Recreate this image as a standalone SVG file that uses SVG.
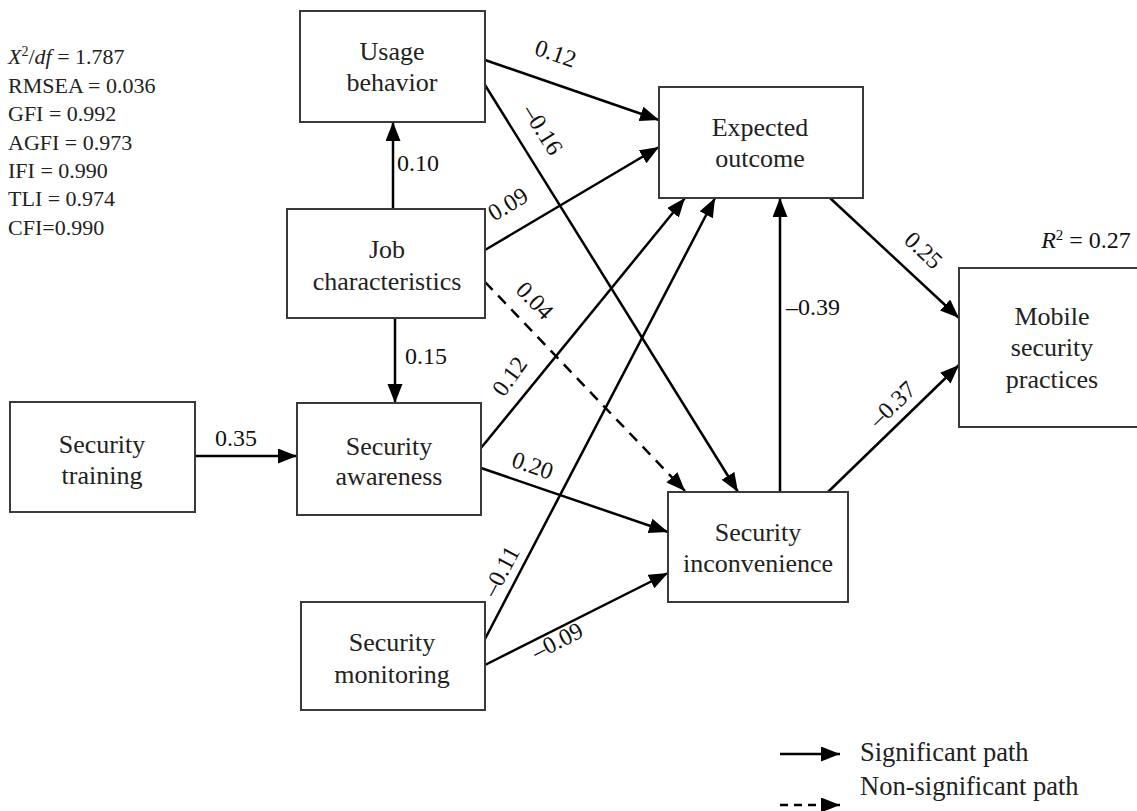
<svg xmlns="http://www.w3.org/2000/svg" width="1137" height="811" viewBox="0 0 1137 811">
<style>
.box{fill:#fff;stroke:#3a3a3a;stroke-width:2}
.nt{font-family:"Liberation Serif",serif;font-size:26px;fill:#222;text-anchor:middle}
.lb{font-family:"Liberation Serif",serif;font-size:24px;fill:#111;text-anchor:middle}
.st{font-family:"Liberation Serif",serif;font-size:22px;fill:#222}
.lg{font-family:"Liberation Serif",serif;font-size:26.5px;fill:#222}
.ln{stroke:#000;stroke-width:2.5;fill:none;marker-end:url(#ah)}
.dash{stroke-dasharray:11,8}
</style>
<defs>
<marker id="ah" markerUnits="userSpaceOnUse" markerWidth="20" markerHeight="16" refX="19" refY="7.5" orient="auto">
<path d="M0,0 L19,7.5 L0,15 z" fill="#000"/>
</marker>
</defs>
<rect width="1137" height="811" fill="#fff"/>

<g id="connectors">
<line class="ln" x1="393" y1="209" x2="393" y2="122"/>
<line class="ln" x1="395" y1="318" x2="395" y2="403"/>
<line class="ln" x1="195" y1="456" x2="297" y2="456"/>
<line class="ln" x1="485" y1="60" x2="659" y2="120"/>
<line class="ln" x1="485" y1="85" x2="738" y2="492"/>
<line class="ln" x1="485" y1="250" x2="659" y2="147"/>
<line class="ln dash" x1="485" y1="282" x2="685" y2="491"/>
<line class="ln" x1="481" y1="448" x2="685" y2="198"/>
<line class="ln" x1="485" y1="639" x2="715" y2="198"/>
<line class="ln" x1="481" y1="468" x2="668" y2="532"/>
<line class="ln" x1="485" y1="665" x2="668" y2="573"/>
<line class="ln" x1="780" y1="492" x2="780" y2="198"/>
<line class="ln" x1="830" y1="198" x2="959" y2="318"/>
<line class="ln" x1="828" y1="492" x2="959" y2="365"/>
</g>

<g id="labels">
<text class="lb" transform="translate(553,61) rotate(19)">0.12</text>
<text class="lb" transform="translate(536,134) rotate(58)">–0.16</text>
<text class="lb" x="418" y="171">0.10</text>
<text class="lb" transform="translate(512,211) rotate(-31)">0.09</text>
<text class="lb" x="426" y="364">0.15</text>
<text class="lb" transform="translate(529,306) rotate(46)">0.04</text>
<text class="lb" transform="translate(516,381) rotate(-54)">0.12</text>
<text class="lb" transform="translate(530,473) rotate(19)">0.20</text>
<text class="lb" x="236" y="446">0.35</text>
<text class="lb" transform="translate(508,575) rotate(-62)">–0.11</text>
<text class="lb" transform="translate(561,648) rotate(-27)">–0.09</text>
<text class="lb" x="813" y="315">–0.39</text>
<text class="lb" transform="translate(918,256) rotate(43)">0.25</text>
<text class="lb" transform="translate(898,410) rotate(-44)">–0.37</text>
<text class="lb" x="1086" y="248"><tspan font-style="italic">R</tspan><tspan font-size="15" dy="-8">2</tspan><tspan dy="8"> = 0.27</tspan></text>
</g>

<g id="fit-stats" class="st">
<text x="8" y="64"><tspan font-style="italic">X</tspan><tspan font-size="14" dy="-8">2</tspan><tspan dy="8">/</tspan><tspan font-style="italic">df</tspan> = 1.787</text>
<text x="8" y="93">RMSEA = 0.036</text>
<text x="8" y="121">GFI = 0.992</text>
<text x="8" y="150">AGFI = 0.973</text>
<text x="8" y="178">IFI = 0.990</text>
<text x="8" y="206">TLI = 0.974</text>
<text x="8" y="235">CFI=0.990</text>
</g>

<g id="usage-behavior">
<rect class="box" x="300" y="11" width="185" height="111"/>
<text class="nt" x="392" y="60">Usage</text>
<text class="nt" x="392" y="91">behavior</text>
</g>
<g id="expected-outcome">
<rect class="box" x="659" y="87" width="204" height="111"/>
<text class="nt" x="760" y="136">Expected</text>
<text class="nt" x="760" y="167">outcome</text>
</g>
<g id="mobile-security-practices">
<rect class="box" x="959" y="268" width="180" height="159"/>
<text class="nt" x="1052" y="325">Mobile</text>
<text class="nt" x="1052" y="356">security</text>
<text class="nt" x="1052" y="388">practices</text>
</g>
<g id="job-characteristics">
<rect class="box" x="287" y="209" width="198" height="109"/>
<text class="nt" x="387" y="258">Job</text>
<text class="nt" x="387" y="290">characteristics</text>
</g>
<g id="security-training">
<rect class="box" x="10" y="402" width="185" height="110"/>
<text class="nt" x="102" y="453">Security</text>
<text class="nt" x="102" y="484">training</text>
</g>
<g id="security-awareness">
<rect class="box" x="297" y="403" width="184" height="112"/>
<text class="nt" x="389" y="455">Security</text>
<text class="nt" x="389" y="485">awareness</text>
</g>
<g id="security-inconvenience">
<rect class="box" x="668" y="492" width="180" height="110"/>
<text class="nt" x="758" y="541">Security</text>
<text class="nt" x="758" y="572">inconvenience</text>
</g>
<g id="security-monitoring">
<rect class="box" x="301" y="602" width="184" height="108"/>
<text class="nt" x="392" y="651">Security</text>
<text class="nt" x="392" y="683">monitoring</text>
</g>

<g id="legend">
<line class="ln" x1="780" y1="754" x2="840" y2="754"/>
<line class="ln" x1="780" y1="805" x2="840" y2="805" stroke-dasharray="8,6"/>
<text class="lg" x="860" y="761">Significant path</text>
<text class="lg" x="860" y="795">Non-significant path</text>
</g>
</svg>
